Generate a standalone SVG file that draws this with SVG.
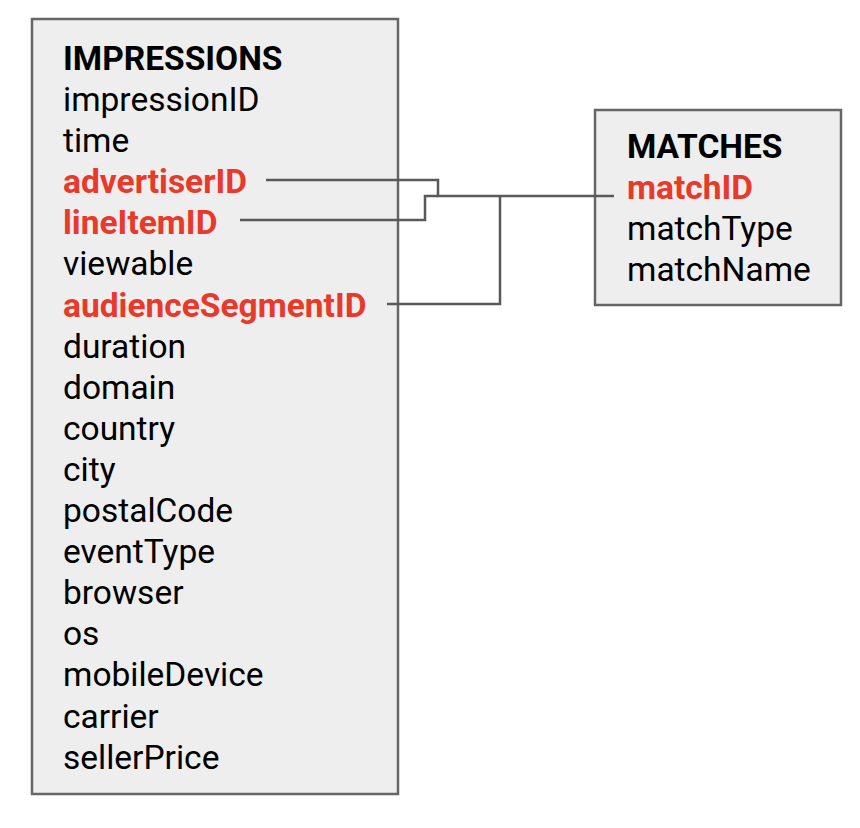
<svg xmlns="http://www.w3.org/2000/svg" width="860" height="828" viewBox="0 0 860 828">
<style>
.box{fill:#eeeeee;stroke:#666666;stroke-width:2.5}
text{font-family:Roboto,"Liberation Sans",sans-serif;font-size:33.5px;fill:#000}
.h{font-weight:bold}
.k{font-weight:bold;fill:#e8392b}
.c{fill:none;stroke:#595959;stroke-width:2.5}
</style>
<rect width="860" height="828" fill="#fff"/>
<g id="impressions">
<rect class="box" x="32" y="19" width="366" height="775"/>
<text class="h" x="63" y="70">IMPRESSIONS</text>
<text x="63" y="111">impressionID</text>
<text x="63" y="152.1">time</text>
<text class="k" x="63" y="193.2">advertiserID</text>
<text class="k" x="63" y="234.3">lineItemID</text>
<text x="63" y="275.4">viewable</text>
<text class="k" x="63" y="316.5">audienceSegmentID</text>
<text x="63" y="357.6">duration</text>
<text x="63" y="398.7">domain</text>
<text x="63" y="439.8">country</text>
<text x="63" y="480.9">city</text>
<text x="63" y="522">postalCode</text>
<text x="63" y="563.1">eventType</text>
<text x="63" y="604.2">browser</text>
<text x="63" y="645.3">os</text>
<text x="63" y="686.4">mobileDevice</text>
<text x="63" y="727.5">carrier</text>
<text x="63" y="768.6">sellerPrice</text>
</g>
<g id="matches">
<rect class="box" x="595" y="110" width="246" height="195"/>
<text class="h" x="627" y="158">MATCHES</text>
<text class="k" x="627" y="199">matchID</text>
<text x="627" y="240">matchType</text>
<text x="627" y="281">matchName</text>
</g>
<g id="connectors">
<path class="c" d="M266 180 H438 V196 H614"/>
<path class="c" d="M240 220 H425 V196 H438"/>
<path class="c" d="M387 304 H500 V196"/>
</g>
</svg>
